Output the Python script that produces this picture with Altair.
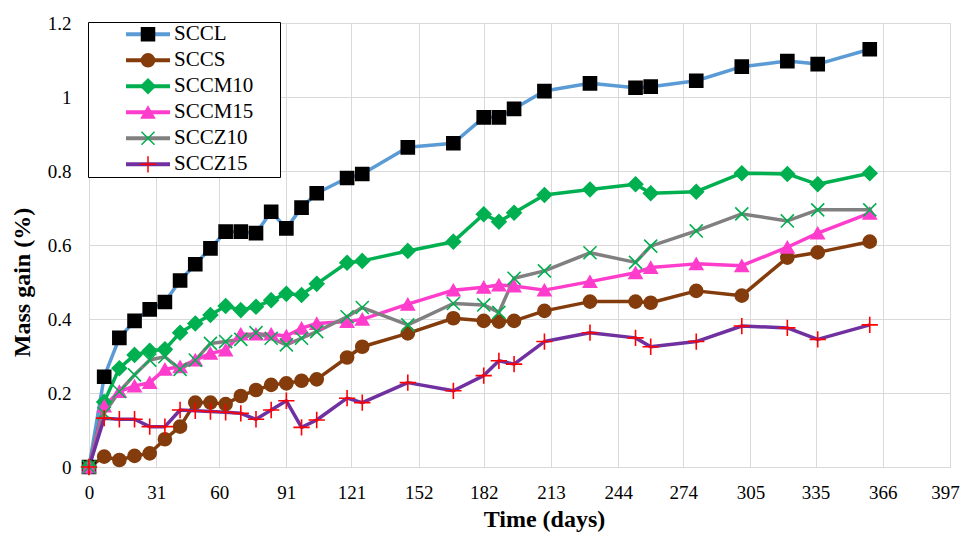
import altair as alt
import pandas as pd

days = [0, 7, 14, 21, 28, 35, 42, 49, 56, 63, 70, 77, 84, 91, 98, 105, 119, 126,
        147, 168, 182, 189, 196, 210, 231, 252, 259, 280, 301, 322, 336, 360]

series_names = ["SCCL", "SCCS", "SCCM10", "SCCM15", "SCCZ10", "SCCZ15"]

sccl = [0, 0.244, 0.349, 0.395, 0.426, 0.446, 0.504, 0.548, 0.591, 0.636, 0.636, 0.632,
        0.690, 0.645, 0.701, 0.740, 0.781, 0.792, 0.864, 0.875, 0.945, 0.945, 0.968, 1.016,
        1.037, 1.025, 1.028, 1.044, 1.082, 1.097, 1.089, 1.129]
sccs = [0, 0.028, 0.019, 0.030, 0.037, 0.075, 0.109, 0.174, 0.174, 0.170, 0.192, 0.208,
        0.222, 0.226, 0.233, 0.237, 0.296, 0.325, 0.361, 0.402, 0.395, 0.393, 0.395, 0.422,
        0.447, 0.447, 0.444, 0.476, 0.463, 0.566, 0.580, 0.609]
sccm10 = [0, 0.176, 0.267, 0.303, 0.314, 0.318, 0.363, 0.388, 0.411, 0.435, 0.424, 0.433,
          0.451, 0.468, 0.465, 0.495, 0.552, 0.557, 0.584, 0.609, 0.683, 0.663, 0.687, 0.735,
          0.750, 0.764, 0.740, 0.744, 0.794, 0.792, 0.764, 0.794]
sccm15 = [0, 0.165, 0.204, 0.219, 0.228, 0.264, 0.271, 0.289, 0.307, 0.316, 0.359, 0.359,
          0.359, 0.354, 0.375, 0.388, 0.393, 0.399, 0.440, 0.478, 0.486, 0.492, 0.489, 0.478,
          0.501, 0.525, 0.539, 0.549, 0.544, 0.594, 0.632, 0.686]
sccz10 = [0, 0.145, 0.204, 0.249, 0.289, 0.298, 0.264, 0.289, 0.334, 0.339, 0.345, 0.363,
          0.348, 0.330, 0.348, 0.366, 0.406, 0.431, 0.384, 0.442, 0.438, 0.418, 0.510, 0.530,
          0.579, 0.553, 0.597, 0.638, 0.684, 0.665, 0.695, 0.695]
sccz15 = [0, 0.132, 0.129, 0.129, 0.109, 0.109, 0.154, 0.152, 0.150, 0.148, 0.145, 0.129,
          0.154, 0.179, 0.107, 0.127, 0.186, 0.174, 0.228, 0.206, 0.247, 0.287, 0.278, 0.339,
          0.363, 0.349, 0.325, 0.339, 0.381, 0.376, 0.345, 0.384]

x_ticks = [0, 31, 60, 91, 121, 152, 182, 213, 244, 274, 305, 335, 366, 397]
y_ticks = [0, 0.2, 0.4, 0.6, 0.8, 1.0, 1.2]

line_colors = ["#5B9BD5", "#843C0C", "#00B050", "#FF3DCC", "#808080", "#7030A0"]
marker_shapes = ["square", "circle", "M0,-1.1L1.1,0L0,1.1L-1.1,0Z", "triangle-up",
                 "M-1,-1L1,1M-1,1L1,-1", "M-1.25,0L1.25,0M0,-1.25L0,1.25"]
marker_fills = ["#000000", "#843C0C", "#00B050", "#FF3DCC", "transparent", "transparent"]
marker_strokes = ["#000000", "#843C0C", "#00B050", "#FF3DCC", "#00B050", "#FF0000"]

rows = []
for name, vals in zip(series_names, [sccl, sccs, sccm10, sccm15, sccz10, sccz15]):
    for d, v in zip(days, vals):
        rows.append({"day": d, "value": v, "series": name, "marker": name})
df = pd.DataFrame(rows)

FONT = "Liberation Serif"

x_enc = alt.X(
    "day:Q",
    scale=alt.Scale(domain=[0, 397], nice=False, zero=False),
    axis=alt.Axis(
        values=x_ticks, format="d", grid=True, gridColor="#d9d9d9", gridWidth=1,
        domainColor="#d9d9d9", domainWidth=1, ticks=False, labelFlush=False,
        labelOverlap=False, labelFont=FONT, labelFontSize=19, labelColor="black",
        labelPadding=16,
        labelOffset={"condition": {"test": "datum.value == 397", "value": -5}, "value": 0},
        title="Time (days)", titleFont=FONT, titleFontSize=24,
        titleFontWeight="bold", titleColor="black", titleX=455, titleY=59,
        titleBaseline="alphabetic",
    ),
)
y_enc = alt.Y(
    "value:Q",
    scale=alt.Scale(domain=[0, 1.2], nice=False, zero=True),
    axis=alt.Axis(
        values=y_ticks, format=".1~f", grid=True, gridColor="#d9d9d9", gridWidth=1,
        domain=False, ticks=False, labelFlush=False, labelOverlap=False,
        labelFont=FONT, labelFontSize=19, labelColor="black", labelPadding=18,
        title="Mass gain (%)", titleFont=FONT, titleFontSize=24,
        titleFontWeight="bold", titleColor="black", titleX=-60, titleY=259,
        titleBaseline="alphabetic",
    ),
)

# line legend (bordered box); an invisible title on the right widens the box
line_legend = alt.Legend(
    orient="none", legendX=-1, legendY=-1, padding=0,
    title="MM", titleOrient="right", titleOpacity=0, titleFontSize=14, titlePadding=3,
    clipHeight=24.6, rowPadding=1, symbolType="stroke", symbolSize=1936,
    symbolStrokeWidth=4, symbolOffset=36, labelOffset=2, labelFont=FONT,
    labelFontSize=21, labelColor="black", strokeColor="black", fillColor="white",
)

# marker legend drawn over the line legend, its labels left empty
marker_legend = alt.Legend(
    orient="none", legendX=-1, legendY=-1, title=None, padding=0,
    clipHeight=24.6, rowPadding=1, symbolSize=170, symbolStrokeWidth=1.5,
    symbolOffset=49.5, labelOffset=2, labelFont=FONT, labelFontSize=21,
    labelOpacity=0, labelExpr="''",
)

base = alt.Chart(df)

lines = base.mark_line(strokeWidth=3.5, strokeJoin="round").encode(
    x=x_enc,
    y=y_enc,
    color=alt.Color("series:N", sort=series_names, scale=alt.Scale(range=line_colors),
                    legend=line_legend),
)

points = base.mark_point(filled=True, size=170, strokeWidth=1.6, opacity=1).encode(
    x=x_enc,
    y=y_enc,
    shape=alt.Shape("marker:N",
                    scale=alt.Scale(domain=series_names, range=marker_shapes),
                    legend=marker_legend),
    fill=alt.Fill("marker:N",
                  scale=alt.Scale(domain=series_names, range=marker_fills),
                  legend=marker_legend),
    stroke=alt.Stroke("marker:N",
                      scale=alt.Scale(domain=series_names, range=marker_strokes),
                      legend=marker_legend),
)

chart = alt.layer(lines, points).properties(
    width=861,
    height=444,
    autosize=alt.AutoSizeParams(type="none"),
    padding={"left": 81, "top": 15, "right": 10, "bottom": 65},
    background="white",
).configure_view(stroke="transparent")

chart.save("out.html", embed_options={"renderer": "svg", "actions": False})
